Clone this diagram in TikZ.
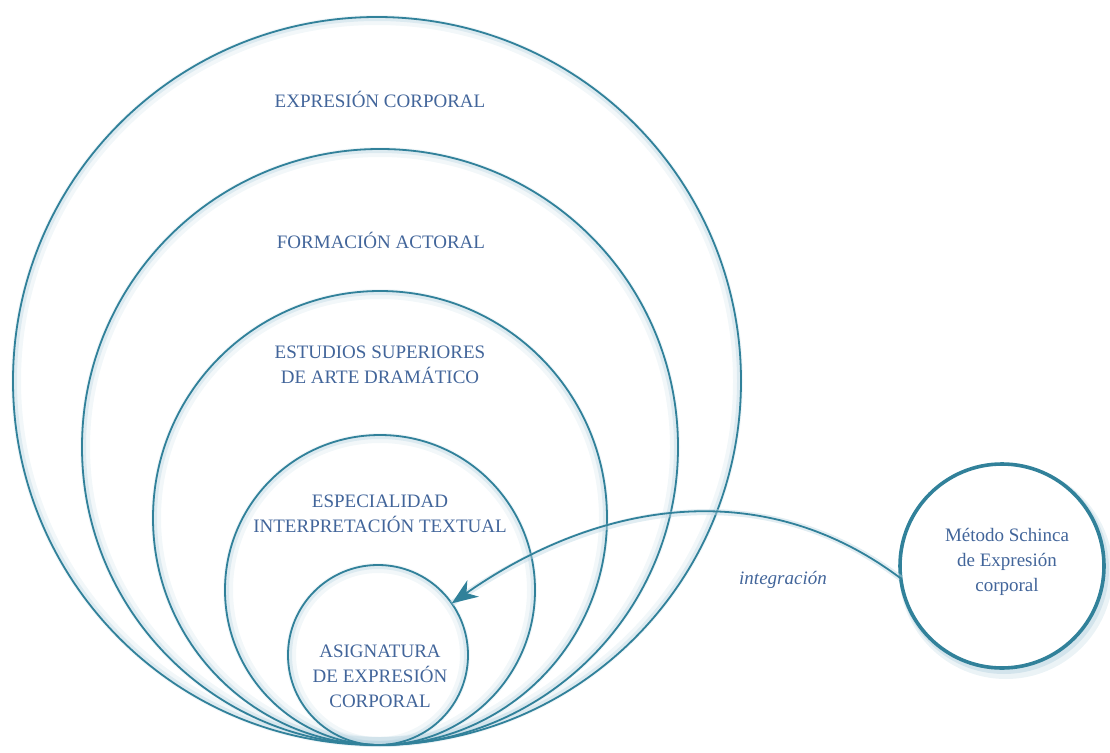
\documentclass[tikz,border=0pt]{standalone}
\usepackage{fontspec}
\setmainfont{Liberation Serif}
\usetikzlibrary{arrows.meta}
\definecolor{ringc}{HTML}{31819A}
\definecolor{haloc}{HTML}{BCD6E2}
\definecolor{labelc}{HTML}{42659A}
\begin{document}
\begin{tikzpicture}[x=1pt,y=1pt,
  ringnode/.style={circle, draw=ringc, line width=1.8pt, inner sep=0pt, outer sep=0pt, minimum size=#1},
  haloA/.style={draw=haloc, line width=10pt, opacity=.2},
  haloB/.style={draw=haloc, line width=5pt, opacity=.4},
  lbl/.style={text=labelc, align=center, font=\fontsize{19}{25}\selectfont},
]
\useasboundingbox (0,0) rectangle (1110,-752);

% soft halos under the nested circles
\foreach \cx/\r in {377/364, 380/298, 380/227, 380/155, 378/90} {
  \draw[haloA] (\cx,{-745+\r}) circle[radius=\r-3];
  \draw[haloB] (\cx,{-745+\r}) circle[radius=\r-1.5];
}
% shadow of the method circle, heavier to the lower right
\draw[draw=haloc, line width=12pt, opacity=.3] (1006,-572) circle[radius=101];
\draw[draw=haloc, line width=6pt, opacity=.5] (1004,-569) circle[radius=102];

% nested circles, all touching at the bottom
\node[ringnode=728pt] (expr) at (377,-381) {};
\node[ringnode=596pt] (form) at (380,-447) {};
\node[ringnode=454pt] (estu) at (380,-518) {};
\node[ringnode=310pt] (espe) at (380,-590) {};
\node[ringnode=180pt] (asig) at (378,-655) {};

% method circle
\node[circle, draw=ringc, fill=white, line width=3.6pt, inner sep=0pt, outer sep=0pt,
      minimum size=204pt] (schinca) at (1002,-566) {};

% labels
\node[lbl] (t1) at (380,-99) {EXPRESIÓN CORPORAL};
\node[lbl] (t2) at (381,-240) {FORMACIÓN ACTORAL};
\node[lbl] (t3) at (380,-365) {ESTUDIOS SUPERIORES\\DE ARTE DRAMÁTICO};
\node[lbl] (t4) at (380,-514) {ESPECIALIDAD\\INTERPRETACIÓN TEXTUAL};
\node[lbl] (t5) at (380,-676) {ASIGNATURA\\DE EXPRESIÓN\\CORPORAL};
\node[lbl] (t6) at (1007,-562) {Método Schinca\\de Expresión\\corporal};
\node[lbl, font=\fontsize{19}{25}\selectfont\itshape] (t7) at (783,-580) {integración};

% integration arrow
\draw[draw=haloc, line width=6pt, opacity=.45] (schinca.187) to[out=143,in=35] (asig.35);
\draw[ringc, line width=1.8pt,
      -{Stealth[length=26pt, width=20pt, inset=8pt]}]
  (schinca.187) to[out=143,in=35] (asig.35);
\end{tikzpicture}
\end{document}
